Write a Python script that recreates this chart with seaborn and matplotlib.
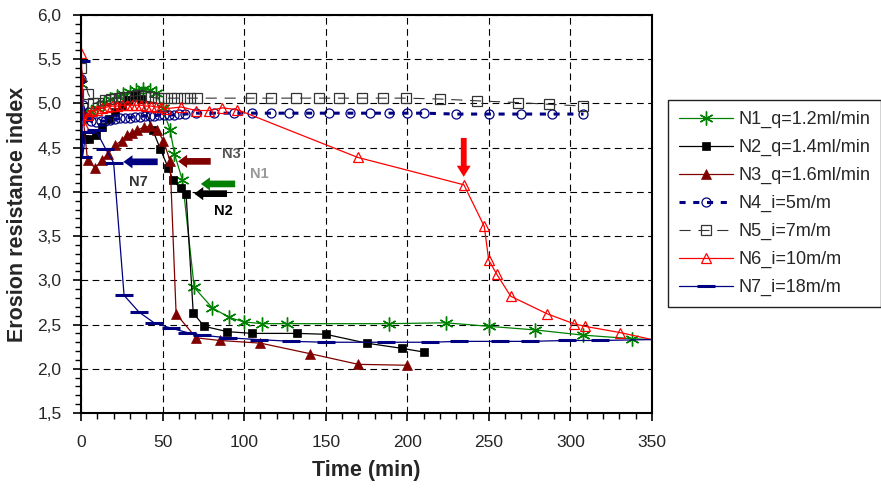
import numpy as np
import pandas as pd
import seaborn as sns
import matplotlib
matplotlib.use('Agg')
import matplotlib.pyplot as plt
from matplotlib.ticker import MultipleLocator

# ---- data (time in min, erosion resistance index) ----
n1_t = [0, 1, 3, 6, 10, 14, 18, 22, 26, 30, 34, 38, 42, 46, 50, 54.6, 57.3, 62.2, 69.4, 80.4, 90.9, 100,
        111, 126.5, 188.5, 223.5, 250, 278, 308, 338, 350]
n1_y = [5.22, 4.92, 4.86, 4.9, 4.95, 5.0, 5.05, 5.08, 5.11, 5.13, 5.15, 5.16, 5.15, 5.12, 4.95, 4.70, 4.43, 4.13,
        2.92, 2.69, 2.58, 2.53, 2.51, 2.51, 2.51, 2.52, 2.48, 2.44, 2.38, 2.34, 2.33]

n2_t = [0, 2, 5, 9, 13, 17, 21, 25, 29, 33, 37, 44, 48.5, 53.5, 56.5, 61, 64.4, 68.8, 75.5, 89.6, 105,
        132.6, 150, 175, 197, 210]
n2_y = [4.62, 4.60, 4.60, 4.64, 4.73, 4.82, 4.90, 4.98, 5.04, 5.10, 5.05, 4.70, 4.49, 4.27, 4.13, 4.04, 3.98,
        2.63, 2.48, 2.42, 2.40, 2.40, 2.39, 2.29, 2.23, 2.19]

n3_t = [0, 1, 4, 8.6, 12.9, 16.6, 20.9, 25, 28, 31, 34.4, 38.5, 42.4, 46.6, 50.5, 54.6, 58.3, 70.6, 85, 110,
        140.6, 170, 200]
n3_y = [5.30, 4.89, 4.36, 4.27, 4.36, 4.43, 4.53, 4.58, 4.64, 4.67, 4.70, 4.73, 4.74, 4.70, 4.58, 4.35, 2.62,
        2.35, 2.32, 2.29, 2.17, 2.05, 2.04]

n4_t = [0, 1, 3, 6, 9, 12, 15, 18, 21, 24, 27, 30, 33, 36, 39, 42, 45, 48, 51, 54, 57, 60, 64, 70.5, 81.6,
        94, 105, 116.6, 127.7, 140, 152, 165, 177, 189, 200, 210, 230, 250, 270, 289, 308]
n4_y = [5.28, 4.98, 4.85, 4.80, 4.79, 4.80, 4.80, 4.81, 4.82, 4.83, 4.84, 4.84, 4.85, 4.85, 4.86, 4.86, 4.86,
        4.87, 4.87, 4.87, 4.87, 4.88, 4.88, 4.89, 4.89, 4.89, 4.89, 4.89, 4.89, 4.89, 4.89, 4.89, 4.89, 4.89,
        4.89, 4.89, 4.88, 4.88, 4.88, 4.88, 4.88]

n5_t = [0, 4.4, 7.5, 10.5, 14.7, 18.6, 23, 27, 31, 35, 39, 43, 47, 51, 55, 59, 63, 67, 71, 104.5, 116.6,
        132, 146, 158, 172.5, 185, 199, 220, 242.5, 267.6, 287, 308]
n5_y = [5.40, 5.11, 5.00, 5.01, 5.04, 5.05, 5.06, 5.07, 5.08, 5.09, 5.08, 5.07, 5.06, 5.06, 5.06, 5.06, 5.06,
        5.06, 5.06, 5.06, 5.06, 5.06, 5.06, 5.06, 5.06, 5.06, 5.06, 5.05, 5.03, 5.01, 4.99, 4.97]

n6_t = [0, 2, 4, 7, 10, 13, 16, 19, 22, 25, 28, 31, 34, 37, 40, 43, 46, 49, 52, 61.4, 70.6, 78.6, 86.6, 95.8,
        169.6, 234.7, 247.2, 249.9, 254.8, 263.4, 285.9, 302, 308.8, 330.3, 350]
n6_y = [5.57, 4.75, 4.87, 4.92, 4.93, 4.95, 4.96, 4.97, 4.97, 4.98, 4.98, 4.98, 4.98, 4.98, 4.97, 4.97, 4.96,
        4.96, 4.94, 4.96, 4.92, 4.92, 4.95, 4.93, 4.39, 4.08, 3.61, 3.23, 3.07, 2.82, 2.62, 2.51, 2.48, 2.41, 2.33]

n7_t = [0, 1, 3, 9, 15, 20, 26.4, 35.6, 44.8, 55, 65, 74, 90, 109, 129, 150, 187, 214, 232, 257, 275, 298,
        318, 350]
n7_y = [5.48, 4.40, 4.68, 4.70, 4.49, 4.33, 2.83, 2.64, 2.52, 2.46, 2.41, 2.38, 2.35, 2.33, 2.31, 2.30, 2.30,
        2.30, 2.31, 2.31, 2.31, 2.32, 2.32, 2.33]

series_labels = ['N1_q=1.2ml/min', 'N2_q=1.4ml/min', 'N3_q=1.6ml/min', 'N4_i=5m/m',
                 'N5_i=7m/m', 'N6_i=10m/m', 'N7_i=18m/m']

y_ticks = [1.5, 2.0, 2.5, 3.0, 3.5, 4.0, 4.5, 5.0, 5.5, 6.0]
y_tick_labels = ['1,5', '2,0', '2,5', '3,0', '3,5', '4,0', '4,5', '5,0', '5,5', '6,0']
x_ticks = [0, 50, 100, 150, 200, 250, 300, 350]

sns.set_style('white')
plt.rcParams['font.family'] = ['Liberation Sans', 'DejaVu Sans']

fig = plt.figure(figsize=(8.81, 4.88), dpi=100)
ax = fig.add_axes([81 / 881, 75 / 488, 571 / 881, 398 / 488])

# one entry per series: data + line/marker style
styles = [
    (n1_t, n1_y, dict(color='#008000', lw=0.9, marker=(6, 2, 0), markersize=10, markeredgewidth=1.0,
                      markeredgecolor='#008000', markevery=list(range(len(n1_t) - 1)))),
    (n2_t, n2_y, dict(color='black', lw=0.9, marker='s', markersize=5.5, markeredgewidth=0.5,
                      markeredgecolor='black')),
    (n3_t, n3_y, dict(color='#800000', lw=0.9, marker='^', markersize=7, markeredgewidth=0.5,
                      markeredgecolor='#800000')),
    (n4_t, n4_y, dict(color='#000080', lw=2.2, linestyle=(0, (2, 2.5)), marker='o', markersize=6.5,
                      markerfacecolor='none', markeredgewidth=0.9, markeredgecolor='#000080')),
    (n5_t, n5_y, dict(color='#333333', lw=0.8, linestyle=(0, (10, 7)), marker='s', markersize=7,
                      markerfacecolor='none', markeredgewidth=0.9, markeredgecolor='#333333')),
    (n6_t, n6_y, dict(color='#ff0000', lw=0.9, marker='^', markersize=7.5, markerfacecolor='none',
                      markeredgewidth=0.9, markeredgecolor='#ff0000',
                      markevery=list(range(len(n6_t) - 1)))),
    (n7_t, n7_y, dict(color='#000080', lw=0.9, marker='_', markersize=13, markeredgewidth=2.2,
                      markeredgecolor='#000080', markevery=list(range(len(n7_t) - 1)))),
]

for (t, y, kw), lab in zip(styles, series_labels):
    df = pd.DataFrame({'t': t, 'y': y})
    sns.lineplot(data=df, x='t', y='y', ax=ax, label=lab, estimator=None, sort=False, clip_on=True, **kw)

# block arrows and labels marking the breakdown points
arrows = [
    ((26.0, 4.34), (47.0, 4.34), '#000080'),
    ((59.5, 4.345), (79.5, 4.345), '#800000'),
    ((73.5, 4.09), (94.5, 4.09), '#008000'),
    ((69.4, 3.98), (89.5, 3.98), 'black'),
]
for tip, tail, c in arrows:
    ax.annotate('', xy=tip, xytext=tail,
                arrowprops=dict(arrowstyle='simple,head_length=0.65,head_width=0.95,tail_width=0.48',
                                color=c, lw=0, shrinkA=0, shrinkB=0))
ax.annotate('', xy=(234.6, 4.17), xytext=(234.6, 4.61),
            arrowprops=dict(arrowstyle='simple,head_length=0.8,head_width=1.0,tail_width=0.42',
                            color='#ff0000', lw=0, shrinkA=0, shrinkB=0))

ax.text(35, 4.11, 'N7', color='#333333', fontsize=10.5, fontweight='bold', ha='center', va='center')
ax.text(92, 4.43, 'N3', color='#555555', fontsize=10.5, fontweight='bold', ha='center', va='center')
ax.text(109.5, 4.20, 'N1', color='#999999', fontsize=10.5, fontweight='bold', ha='center', va='center')
ax.text(87, 3.78, 'N2', color='black', fontsize=10.5, fontweight='bold', ha='center', va='center')

ax.set_xlim(0, 350)
ax.set_ylim(1.5, 6.0)
ax.set_xticks(x_ticks)
ax.set_yticks(y_ticks)
ax.set_yticklabels(y_tick_labels)
ax.xaxis.set_minor_locator(MultipleLocator(10))
ax.yaxis.set_minor_locator(MultipleLocator(0.1))
ax.tick_params(which='major', direction='out', length=6, width=1.2, labelsize=12.5, color='black', pad=8)
ax.tick_params(which='minor', direction='out', length=4, width=1.0, color='black')
ax.tick_params(axis='x', which='major', pad=10)
ax.tick_params(left=True, bottom=True, which='both')

ax.grid(True, which='major', color='black', linestyle=(0, (6, 4)), linewidth=0.8)
for sp in ax.spines.values():
    sp.set_color('black')
    sp.set_linewidth(1.5)

ax.set_xlabel('Time (min)', fontsize=15.5, fontweight='bold', labelpad=7)
ax.set_ylabel('Erosion resistance index', fontsize=15.5, fontweight='bold', labelpad=7)

handles, labels = ax.get_legend_handles_labels()
ax.get_legend().remove()
leg = fig.legend(handles, labels, loc='upper left', bbox_to_anchor=(668 / 881, 388 / 488),
                 bbox_transform=fig.transFigure, fontsize=13, frameon=True, fancybox=False,
                 framealpha=1, edgecolor='#222222', borderaxespad=0, borderpad=0.6,
                 labelspacing=0.6, handlelength=3.0, handletextpad=0.3, numpoints=1)
leg.get_frame().set_linewidth(1.0)

fig.savefig('out.png', dpi=100)
